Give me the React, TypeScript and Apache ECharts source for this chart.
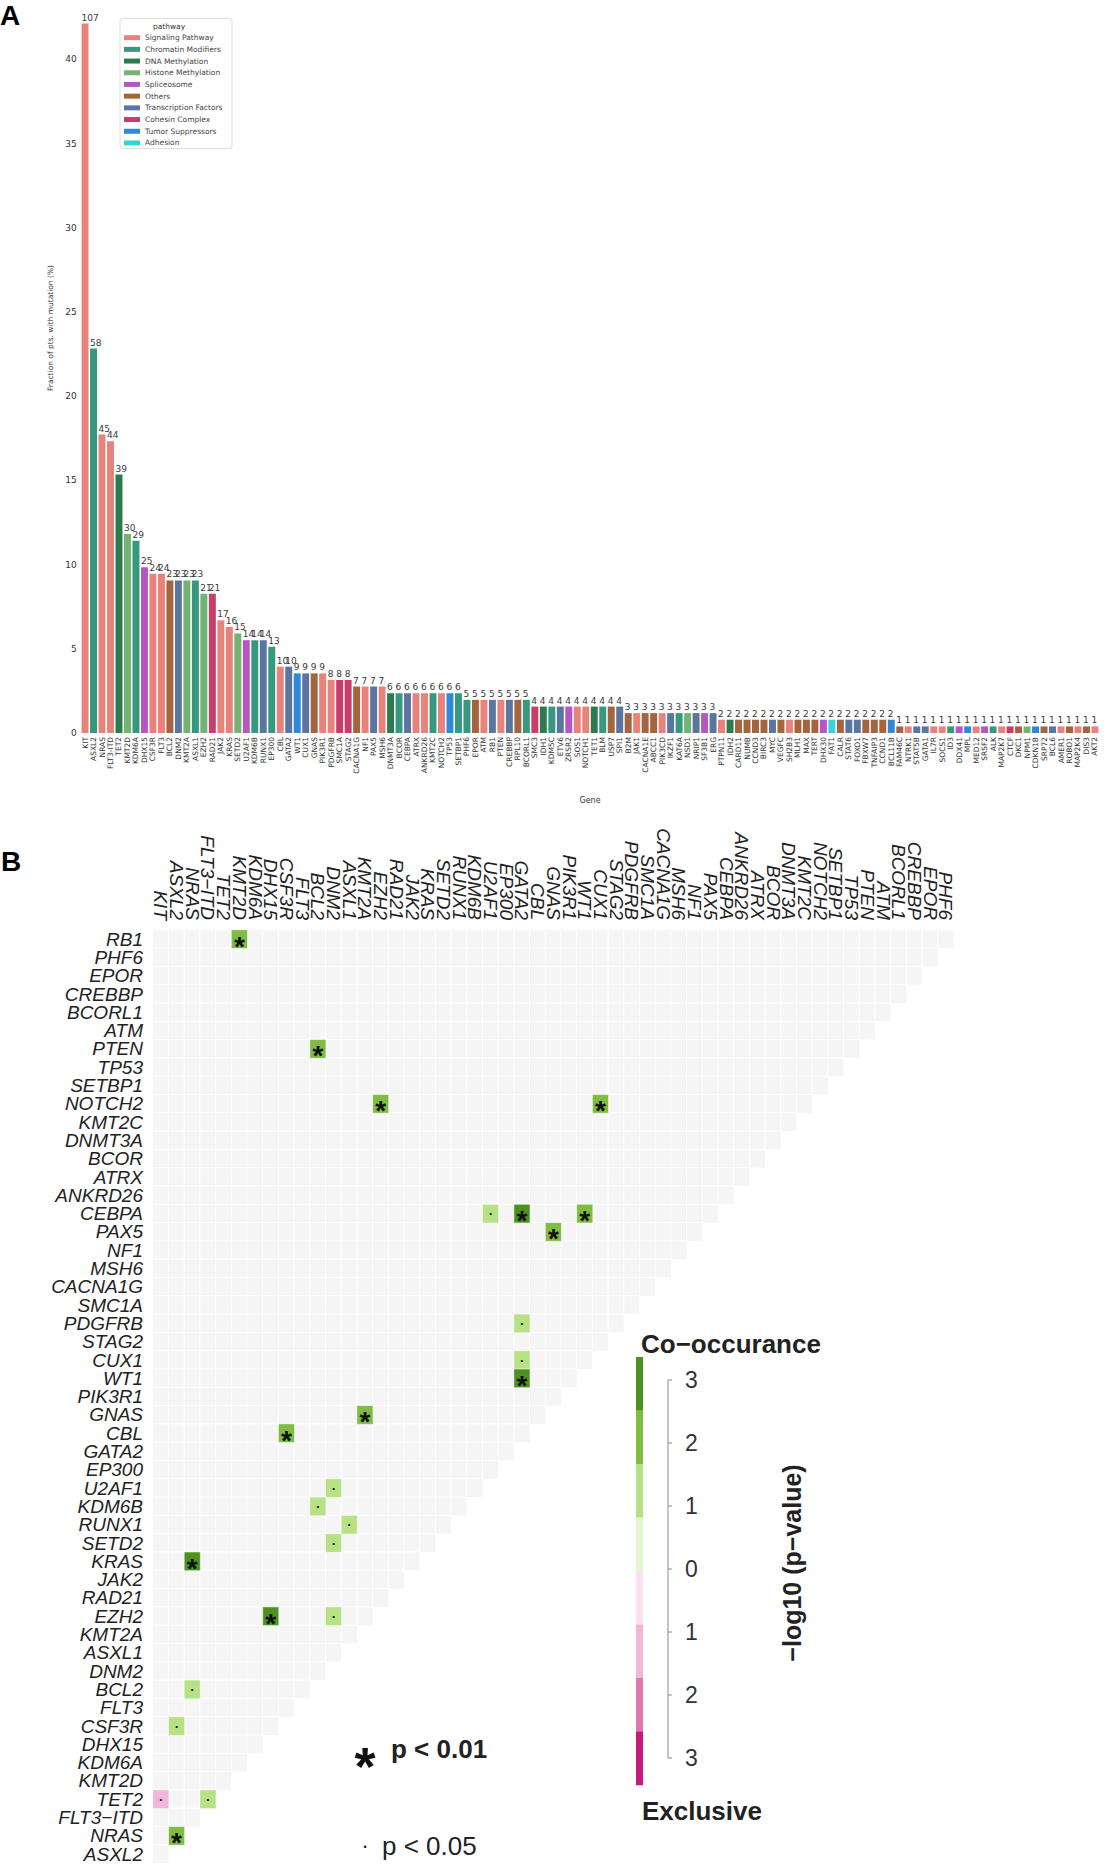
import React, { useEffect, useRef } from "react";
import * as echarts from "echarts";

// ---------------- Panel A data ----------------
const pathways = [
  "Signaling Pathway",
  "Chromatin Modifiers",
  "DNA Methylation",
  "Histone Methylation",
  "Spliceosome",
  "Others",
  "Transcription Factors",
  "Cohesin Complex",
  "Tumor Suppressors",
  "Adhesion",
];
const pathwayColors = [
  "#e8837c", "#36997f", "#2e7a4f", "#74b374", "#b456c6",
  "#a4643e", "#5a76a0", "#c93d6a", "#2f88d8", "#38d4d6",
];

const genes = [
  "KIT", "ASXL2", "NRAS", "FLT3-ITD", "TET2", "KMT2D", "KDM6A", "DHX15", "CSF3R", "FLT3",
  "BCL2", "DNM2", "KMT2A", "ASXL1", "EZH2", "RAD21", "JAK2", "KRAS", "SETD2", "U2AF1",
  "KDM6B", "RUNX1", "EP300", "CBL", "GATA2", "WT1", "CUX1", "GNAS", "PIK3R1", "PDGFRB",
  "SMC1A", "STAG2", "CACNA1G", "NF1", "PAX5", "MSH6", "DNMT3A", "BCOR", "CEBPA", "ATRX",
  "ANKRD26", "KMT2C", "NOTCH2", "TP53", "SETBP1", "PHF6", "EPOR", "ATM", "RB1", "PTEN",
  "CREBBP", "RPL10", "BCORL1", "SMC3", "IDH1", "KDM5C", "ETV6", "ZRSR2", "SOS1", "NOTCH1",
  "TET1", "BLM", "USP7", "SPI1", "B2M", "JAK1", "CACNA1E", "ABCC1", "PIK3CD", "IKZF1",
  "KAT6A", "NSD1", "NRIP1", "SF3B1", "ERG", "PTPN11", "IDH2", "CARD11", "NUMB", "CCND3",
  "BIRC3", "MYC", "VEGFC", "SH2B3", "MLH1", "MAX", "TERT", "DHX30", "FAT1", "CALR",
  "STAT6", "FOXO1", "FBXW7", "TNFAIP3", "CCND1", "BCL11B", "FAM46C", "NTRK1", "STAT5B", "GATA1",
  "IL7R", "SOCS1", "ID3", "DDX41", "MPL", "MED12", "SRSF2", "ALK", "MAP2K7", "CTCF",
  "DKC1", "NPM1", "CDKN1B", "SRP72", "BCL6", "AMER1", "ROBO1", "MAP2K4", "DIS3", "AKT2",
];

// index into pathways
const genePathway = [
  0, 1, 0, 0, 2, 3, 1, 4, 0, 0,
  5, 6, 3, 1, 3, 7, 0, 0, 3, 4,
  1, 6, 1, 0, 6, 8, 6, 5, 0, 0,
  7, 7, 5, 0, 6, 0, 2, 1, 6, 0,
  0, 1, 0, 8, 1, 1, 5, 0, 6, 0,
  6, 5, 1, 7, 2, 1, 6, 4, 0, 0,
  2, 1, 5, 6, 5, 0, 5, 5, 0, 6,
  1, 3, 6, 4, 6, 0, 2, 5, 5, 5,
  5, 6, 5, 0, 5, 5, 5, 4, 9, 5,
  6, 6, 5, 5, 5, 8, 5, 0, 6, 6,
  0, 0, 1, 4, 8, 0, 4, 1, 0, 7,
  5, 3, 8, 5, 6, 0, 5, 0, 5, 0,
];

// number of patients (bar labels)
const counts = [
  107, 58, 45, 44, 39, 30, 29, 25, 24, 24,
  23, 23, 23, 23, 21, 21, 17, 16, 15, 14,
  14, 14, 13, 10, 10, 9, 9, 9, 9, 8,
  8, 8, 7, 7, 7, 7, 6, 6, 6, 6,
  6, 6, 6, 6, 6, 5, 5, 5, 5, 5,
  5, 5, 5, 4, 4, 4, 4, 4, 4, 4,
  4, 4, 4, 4, 3, 3, 3, 3, 3, 3,
  3, 3, 3, 3, 3, 2, 2, 2, 2, 2,
  2, 2, 2, 2, 2, 2, 2, 2, 2, 2,
  2, 2, 2, 2, 2, 2, 1, 1, 1, 1,
  1, 1, 1, 1, 1, 1, 1, 1, 1, 1,
  1, 1, 1, 1, 1, 1, 1, 1, 1, 1,
];

// fraction of pts. with mutation (%)
const fractionPct = [
  42.13, 22.83, 17.72, 17.32, 15.35, 11.81, 11.42, 9.84, 9.45, 9.45,
  9.06, 9.06, 9.06, 9.06, 8.27, 8.27, 6.69, 6.3, 5.91, 5.51,
  5.51, 5.51, 5.12, 3.94, 3.94, 3.54, 3.54, 3.54, 3.54, 3.15,
  3.15, 3.15, 2.76, 2.76, 2.76, 2.76, 2.36, 2.36, 2.36, 2.36,
  2.36, 2.36, 2.36, 2.36, 2.36, 1.97, 1.97, 1.97, 1.97, 1.97,
  1.97, 1.97, 1.97, 1.57, 1.57, 1.57, 1.57, 1.57, 1.57, 1.57,
  1.57, 1.57, 1.57, 1.57, 1.18, 1.18, 1.18, 1.18, 1.18, 1.18,
  1.18, 1.18, 1.18, 1.18, 1.18, 0.79, 0.79, 0.79, 0.79, 0.79,
  0.79, 0.79, 0.79, 0.79, 0.79, 0.79, 0.79, 0.79, 0.79, 0.79,
  0.79, 0.79, 0.79, 0.79, 0.79, 0.79, 0.39, 0.39, 0.39, 0.39,
  0.39, 0.39, 0.39, 0.39, 0.39, 0.39, 0.39, 0.39, 0.39, 0.39,
  0.39, 0.39, 0.39, 0.39, 0.39, 0.39, 0.39, 0.39, 0.39, 0.39,
];
const yTickMax = 42.5;

// ---------------- Panel B data ----------------
const hmCols = [
  "KIT", "ASXL2", "NRAS", "FLT3−ITD", "TET2", "KMT2D", "KDM6A", "DHX15", "CSF3R", "FLT3",
  "BCL2", "DNM2", "ASXL1", "KMT2A", "EZH2", "RAD21", "JAK2", "KRAS", "SETD2", "RUNX1",
  "KDM6B", "U2AF1", "EP300", "GATA2", "CBL", "GNAS", "PIK3R1", "WT1", "CUX1", "STAG2",
  "PDGFRB", "SMC1A", "CACNA1G", "MSH6", "NF1", "PAX5", "CEBPA", "ANKRD26", "ATRX", "BCOR",
  "DNMT3A", "KMT2C", "NOTCH2", "SETBP1", "TP53", "PTEN", "ATM", "BCORL1", "CREBBP", "EPOR",
  "PHF6",
];
const hmRows = [
  "RB1", "PHF6", "EPOR", "CREBBP", "BCORL1", "ATM", "PTEN", "TP53", "SETBP1", "NOTCH2",
  "KMT2C", "DNMT3A", "BCOR", "ATRX", "ANKRD26", "CEBPA", "PAX5", "NF1", "MSH6", "CACNA1G",
  "SMC1A", "PDGFRB", "STAG2", "CUX1", "WT1", "PIK3R1", "GNAS", "CBL", "GATA2", "EP300",
  "U2AF1", "KDM6B", "RUNX1", "SETD2", "KRAS", "JAK2", "RAD21", "EZH2", "KMT2A", "ASXL1",
  "DNM2", "BCL2", "FLT3", "CSF3R", "DHX15", "KDM6A", "KMT2D", "TET2", "FLT3−ITD", "NRAS",
  "ASXL2",
];

// significant pairs: signed -log10(p) (positive = co-occurrence, negative = exclusive)
const sigRow = [
  "RB1", "PTEN", "NOTCH2", "NOTCH2", "CEBPA", "CEBPA", "CEBPA", "PAX5", "PDGFRB", "CUX1",
  "WT1", "GNAS", "CBL", "U2AF1", "KDM6B", "RUNX1", "SETD2", "KRAS", "EZH2", "EZH2",
  "BCL2", "CSF3R", "TET2", "TET2", "NRAS",
];
const sigCol = [
  "KMT2D", "BCL2", "EZH2", "CUX1", "U2AF1", "GATA2", "WT1", "GNAS", "GATA2", "GATA2",
  "GATA2", "KMT2A", "CSF3R", "DNM2", "BCL2", "ASXL1", "DNM2", "NRAS", "DHX15", "DNM2",
  "NRAS", "ASXL2", "KIT", "FLT3−ITD", "ASXL2",
];
const sigVal = [
  2.2, 2.2, 2.2, 2.2, 1.4, 2.9, 2.2, 2.2, 1.4, 1.4,
  2.9, 2.2, 2.2, 1.4, 1.4, 1.4, 1.4, 2.9, 2.9, 1.4,
  1.4, 1.4, -1.4, 1.4, 2.2,
];
const sigMark = [
  "*", "*", "*", "*", ".", "*", "*", "*", ".", ".",
  "*", "*", "*", ".", ".", ".", ".", "*", "*", ".",
  ".", ".", ".", ".", "*",
];

// colour bar
const cbColors = ["#4d9221", "#7fbc41", "#b8e186", "#e6f5d0", "#fde0ef", "#f1b6da", "#de77ae", "#c51b7d"];
const cbTickLabels = ["3", "2", "1", "0", "1", "2", "3"];

const FONT_A = "DejaVu Sans";
const FONT_B = "Liberation Sans";

function buildOption() {
  const barSeries = pathways.map((name, k) => ({
    name,
    type: "bar",
    xAxisIndex: 0,
    yAxisIndex: 0,
    stack: "all",
    barCategoryGap: "18%",
    itemStyle: { color: pathwayColors[k] },
    data: fractionPct.map((v, i) => (genePathway[i] === k ? v : "-")),
    label: {
      show: true,
      position: "top",
      align: "left",
      offset: [-3.5, 0],
      distance: 1.5,
      fontSize: 9,
      color: "#3a3a3a",
      fontFamily: FONT_A,
      formatter: (p: any) => String(counts[p.dataIndex]),
    },
  }));

  const bgCells: any[] = [];
  hmRows.forEach((r, ri) => {
    const n = hmCols.length - ri;
    for (let c = 0; c < n; c++) bgCells.push([c, ri, 0]);
  });

  const sigCells = sigRow.map((r, i) => {
    const star = sigMark[i] === "*";
    return {
      value: [hmCols.indexOf(sigCol[i]), hmRows.indexOf(r), sigVal[i]],
      label: star
        ? { show: true, formatter: "*", fontSize: 28, fontWeight: "bold", color: "#111", offset: [0, 7], fontFamily: FONT_B }
        : { show: true, formatter: "•", fontSize: 8, color: "#111", offset: [0, 0], fontFamily: FONT_B },
    };
  });

  const cbTop = 1357;
  const cbSeg = 53.5;
  const graphic: any[] = [];
  graphic.push({ type: "text", x: 0, y: 15, style: { text: "A", fontSize: 28, fontWeight: "bold", fontFamily: FONT_B, fill: "#000", align: "left", verticalAlign: "middle" } });
  graphic.push({ type: "text", x: 1, y: 861, style: { text: "B", fontSize: 28, fontWeight: "bold", fontFamily: FONT_B, fill: "#000", align: "left", verticalAlign: "middle" } });
  graphic.push({ type: "text", x: 50, y: 328, rotation: Math.PI / 2, style: { text: "Fraction of pts. with mutation (%)", fontSize: 7.5, fontFamily: FONT_A, fill: "#333", align: "center", verticalAlign: "middle" } });
  // legend frame + title
  graphic.push({ type: "rect", z: 1, shape: { x: 120, y: 18.5, width: 112, height: 130, r: 3 }, style: { fill: "#fff", stroke: "#dddddd", lineWidth: 1 } });
  graphic.push({ type: "text", z: 2, x: 169, y: 26, style: { text: "pathway", fontSize: 7.5, fontFamily: FONT_A, fill: "#333", align: "center", verticalAlign: "middle" } });
  // colour bar
  cbColors.forEach((c, i) => {
    graphic.push({ type: "rect", shape: { x: 636, y: cbTop + i * cbSeg, width: 7, height: cbSeg + 0.3 }, style: { fill: c } });
  });
  graphic.push({ type: "line", shape: { x1: 668, y1: 1380, x2: 668, y2: 1758 }, style: { stroke: "#888", lineWidth: 1 } });
  cbTickLabels.forEach((t, i) => {
    const y = 1380 + i * 63;
    graphic.push({ type: "line", shape: { x1: 668, y1: y, x2: 672, y2: y }, style: { stroke: "#888", lineWidth: 1 } });
    graphic.push({ type: "text", x: 685, y, style: { text: t, fontSize: 23, fontFamily: FONT_B, fill: "#333", align: "left", verticalAlign: "middle" } });
  });
  graphic.push({ type: "text", x: 641, y: 1344, style: { text: "Co−occurance", fontSize: 26, fontWeight: "bold", fontFamily: FONT_B, fill: "#222", align: "left", verticalAlign: "middle" } });
  graphic.push({ type: "text", x: 642, y: 1811, style: { text: "Exclusive", fontSize: 26, fontWeight: "bold", fontFamily: FONT_B, fill: "#222", align: "left", verticalAlign: "middle" } });
  graphic.push({ type: "text", x: 792, y: 1563, rotation: Math.PI / 2, style: { text: "−log10 (p−value)", fontSize: 25, fontWeight: "bold", fontFamily: FONT_B, fill: "#222", align: "center", verticalAlign: "middle" } });
  // significance legend
  graphic.push({ type: "text", x: 365, y: 1766, style: { text: "*", fontSize: 54, fontWeight: "bold", fontFamily: FONT_B, fill: "#111", align: "center", verticalAlign: "middle" } });
  graphic.push({ type: "text", x: 391, y: 1749, style: { text: "p < 0.01", fontSize: 26, fontWeight: "bold", fontFamily: FONT_B, fill: "#222", align: "left", verticalAlign: "middle" } });
  graphic.push({ type: "text", x: 365, y: 1847, style: { text: "•", fontSize: 9, fontFamily: FONT_B, fill: "#111", align: "center", verticalAlign: "middle" } });
  graphic.push({ type: "text", x: 382, y: 1846, style: { text: "p < 0.05", fontSize: 26, fontFamily: FONT_B, fill: "#222", align: "left", verticalAlign: "middle" } });

  return {
    animation: false,
    backgroundColor: "#ffffff",
    textStyle: { fontFamily: FONT_A },
    grid: [
      { left: 80.8, top: 17.3, width: 1018.4, height: 715.7 },
      { left: 153, top: 930, width: 800.7, height: 933.3 },
    ],
    legend: {
      data: pathways,
      orient: "vertical",
      left: 124,
      top: 32.8,
      padding: 0,
      itemWidth: 16,
      itemHeight: 5,
      itemGap: 2,
      icon: "rect",
      selectedMode: false,
      z: 5,
      textStyle: { fontSize: 7.5, lineHeight: 9.7, color: "#444", fontFamily: FONT_A, padding: [0, 0, 0, 0] },
    },
    xAxis: [
      {
        type: "category",
        gridIndex: 0,
        data: genes,
        axisLine: { show: false },
        axisTick: { show: false },
        splitLine: { show: false },
        axisLabel: { rotate: 90, interval: 0, fontSize: 7.5, color: "#333", margin: 4, fontFamily: FONT_A },
        name: "Gene",
        nameLocation: "middle",
        nameGap: 63,
        nameTextStyle: { fontSize: 8, color: "#333", fontFamily: FONT_A },
      },
      {
        type: "category",
        gridIndex: 1,
        position: "top",
        data: hmCols,
        axisLine: { show: false },
        axisTick: { show: false },
        splitLine: { show: false },
        axisLabel: { rotate: 90, interval: 0, fontSize: 19, fontStyle: "italic", color: "#222", margin: 10, fontFamily: FONT_B },
      },
    ],
    yAxis: [
      {
        type: "value",
        gridIndex: 0,
        min: 0,
        max: yTickMax,
        interval: 5,
        splitLine: { show: false },
        axisLine: { show: false },
        axisTick: { show: false },
        axisLabel: { fontSize: 9, color: "#333", margin: 4, showMaxLabel: false, fontFamily: FONT_A },
      },
      {
        type: "category",
        gridIndex: 1,
        inverse: true,
        data: hmRows,
        axisLine: { show: false },
        axisTick: { show: false },
        splitLine: { show: false },
        axisLabel: { interval: 0, fontSize: 19, fontStyle: "italic", color: "#222", margin: 10, fontFamily: FONT_B },
      },
    ],
    visualMap: {
      type: "piecewise",
      show: false,
      dimension: 2,
      seriesIndex: [pathways.length, pathways.length + 1],
      pieces: [
        { gte: 2.56, color: cbColors[0] },
        { gte: 1.7, lt: 2.56, color: cbColors[1] },
        { gte: 0.86, lt: 1.7, color: cbColors[2] },
        { gt: 0, lt: 0.86, color: cbColors[3] },
        { value: 0, color: "#f5f5f5" },
        { gt: -0.86, lt: 0, color: cbColors[4] },
        { gt: -1.7, lte: -0.86, color: cbColors[5] },
        { gt: -2.56, lte: -1.7, color: cbColors[6] },
        { lte: -2.56, color: cbColors[7] },
      ],
    },
    series: [
      ...barSeries,
      {
        type: "heatmap",
        xAxisIndex: 1,
        yAxisIndex: 1,
        data: bgCells,
        itemStyle: { borderColor: "#ffffff", borderWidth: 1 },
        emphasis: { disabled: true },
      },
      {
        type: "heatmap",
        xAxisIndex: 1,
        yAxisIndex: 1,
        data: sigCells,
        itemStyle: { borderColor: "#ffffff", borderWidth: 0.6 },
        emphasis: { disabled: true },
      },
    ],
    graphic,
  };
}

export default function App() {
  const ref = useRef<HTMLDivElement>(null);
  useEffect(() => {
    if (!ref.current) return;
    const chart = echarts.init(ref.current, undefined, { renderer: "svg" });
    chart.setOption(buildOption() as any);
    return () => chart.dispose();
  }, []);
  return (
    <div
      ref={ref}
      style={{ position: "absolute", left: 0, top: 0, width: 1107, height: 1875, background: "#fff" }}
    />
  );
}
